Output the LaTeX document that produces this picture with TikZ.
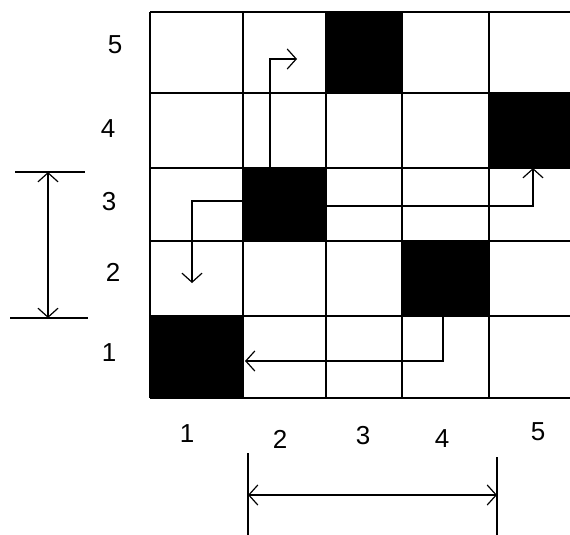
\documentclass[tikz,border=0pt]{standalone}
\usepackage{fontspec}
\setmainfont{Liberation Sans}
\usetikzlibrary{arrows.meta}
\begin{document}
\begin{tikzpicture}[x=1pt, y=-1pt, line width=1.5pt,
    barb/.tip={Straight Barb[length=9pt, width=20pt, line width=1.2pt]},
    move/.style={-barb},
    span/.style={barb-barb},
    lab/.style={font=\fontsize{26}{26}\selectfont, inner sep=0pt}]
    \useasboundingbox (0,0) rectangle (570,535);

    \foreach \bx/\by/\ex/\ey in {326/12/402/93, 489/93/570/168, 243/168/326/241, 402/241/489/316, 150/316/243/398}
        \fill (\bx,\by) rectangle (\ex,\ey);
    \foreach \x in {150, 243, 326, 402, 489}
        \draw (\x,12) -- (\x,398);
    \foreach \y in {12, 93, 168, 241, 316, 398}
        \draw (150,\y) -- (570,\y);

    \foreach \n/\x/\y in {5/115/45, 4/108/129, 3/109/202, 2/113/272, 1/109/353}
        \node[lab] (row\n) at (\x,\y) {\n};
    \foreach \n/\x/\y in {1/187/434, 2/280/439, 3/363/436, 4/442/439, 5/538/432}
        \node[lab] (col\n) at (\x,\y) {\n};

    % moves
    \coordinate (a0) at (270,168);  \coordinate (a1) at (297,59);
    \coordinate (b0) at (243,201);  \coordinate (b1) at (192,283);
    \coordinate (c0) at (326,206);  \coordinate (c1) at (533,168);
    \coordinate (d0) at (443,316);  \coordinate (d1) at (245,361);
    \draw[move] (a0) |- (a1);
    \draw[move] (b0) -| (b1);
    \draw[move] (c0) -| (c1);
    \draw[move] (d0) |- (d1);

    % spans
    \coordinate (top) at (48,172);   \coordinate (bot) at (48,318);
    \coordinate (lft) at (248,495);  \coordinate (rgt) at (497,495);
    \draw (15,172) -- (85,172);
    \draw (10,318) -- (88,318);
    \draw[span] (top) -- (bot);
    \draw (248,453) -- (248,535);
    \draw (497,457) -- (497,535);
    \draw[span] (lft) -- (rgt);
\end{tikzpicture}
\end{document}
